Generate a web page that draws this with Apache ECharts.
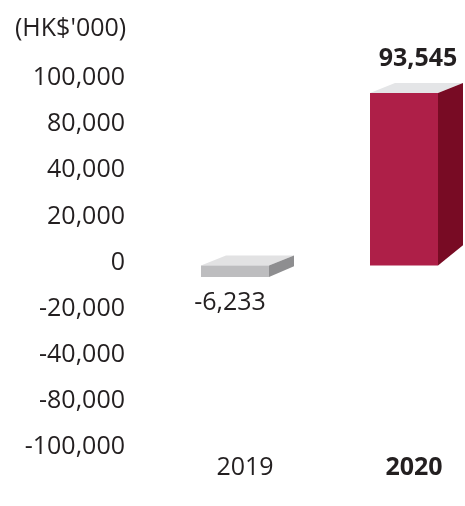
<!DOCTYPE html>
<html>
<head>
<meta charset="utf-8">
<script src="https://cdn.jsdelivr.net/npm/echarts@6/dist/echarts.min.js"></script>
<style>
  html, body { margin: 0; padding: 0; background: #fff; }
  #chart { width: 465px; height: 506px; }
</style>
</head>
<body>
<div id="chart"></div>
<script>
var years = ["2019", "2020"];
var profit = [-6233, 93545];
var tickLabels = ["-100,000", "-80,000", "-40,000", "-20,000", "0", "20,000", "40,000", "80,000", "100,000"];
var unitLabel = "(HK$'000)";

var FONT = "Open Sans";
var SIZE = 25;
var INK = "#231f20";
var faces = [
    { front: "#bdbdbf", top: "#e2e2e3", side: "#8e8e90" },
    { front: "#ae1f48", top: "#e4e5e7", side: "#780b24" }
];

function fmt(v) {
    var s = Math.abs(v).toString().replace(/\B(?=(\d{3})+(?!\d))/g, ",");
    return (v < 0 ? "-" : "") + s;
}

var chart = echarts.init(document.getElementById("chart"));

function renderBox(params, api) {
    var i = api.value(0);
    var v = api.value(1);
    var p = api.coord([i, v]);
    var z = api.coord([i, 0]);
    var half = 34, dx = 25, dy = -10;
    var yTop = Math.min(p[1], z[1]);
    var yBot = Math.max(p[1], z[1]);
    var h = yBot - yTop;
    var dyb = dy - h * 0.06;
    var l = p[0] - half, r = p[0] + half;
    var c = faces[i];
    var last = i === years.length - 1;
    var labelY = v >= 0 ? yTop + dy - 24 : yBot + 26;
    var labelX = v >= 0 ? p[0] + 14 : p[0] - 5;
    return {
        type: "group",
        children: [
            { type: "polygon", shape: { points: [[l, yTop], [r, yTop], [r + dx, yTop + dy], [l + dx, yTop + dy]] }, style: { fill: c.top } },
            { type: "polygon", shape: { points: [[r, yTop], [r + dx, yTop + dy], [r + dx, yBot + dyb], [r, yBot]] }, style: { fill: c.side } },
            { type: "rect", shape: { x: l, y: yTop, width: r - l, height: h }, style: { fill: c.front } },
            { type: "text", x: labelX, y: labelY, style: {
                text: fmt(v), fill: INK, font: (last ? "bold " : "") + SIZE + "px '" + FONT + "'",
                align: "center", verticalAlign: "middle" } }
        ]
    };
}

chart.setOption({
    animation: false,
    title: {
        text: unitLabel, left: 10, top: 11,
        textStyle: { fontFamily: FONT, fontSize: SIZE, fontWeight: "normal", color: INK }
    },
    grid: { left: 235, right: 61, top: 81, bottom: 56 },
    xAxis: {
        type: "category", data: years, boundaryGap: false,
        axisLine: { show: false, onZero: false }, axisTick: { show: false },
        axisLabel: {
            margin: 5, fontFamily: FONT, fontSize: SIZE, color: INK, padding: [0, 0, 0, 20],
            formatter: function (val, idx) { return idx === years.length - 1 ? "{b|" + val + "}" : val; },
            rich: { b: { fontFamily: FONT, fontSize: SIZE, fontWeight: "bold", color: INK } }
        }
    },
    yAxis: {
        type: "value", min: -100000, max: 100000, interval: 25000,
        splitLine: { show: false }, axisLine: { show: false }, axisTick: { show: false },
        axisLabel: {
            margin: 110, fontFamily: FONT, fontSize: SIZE, color: INK,
            verticalAlign: "bottom", lineHeight: 6,
            formatter: function (val) { return tickLabels[Math.round((val + 100000) / 25000)]; }
        }
    },
    series: [{
        type: "custom",
        renderItem: renderBox,
        data: profit.map(function (v, i) { return [i, v]; }),
        clip: false
    }]
});
</script>
</body>
</html>
